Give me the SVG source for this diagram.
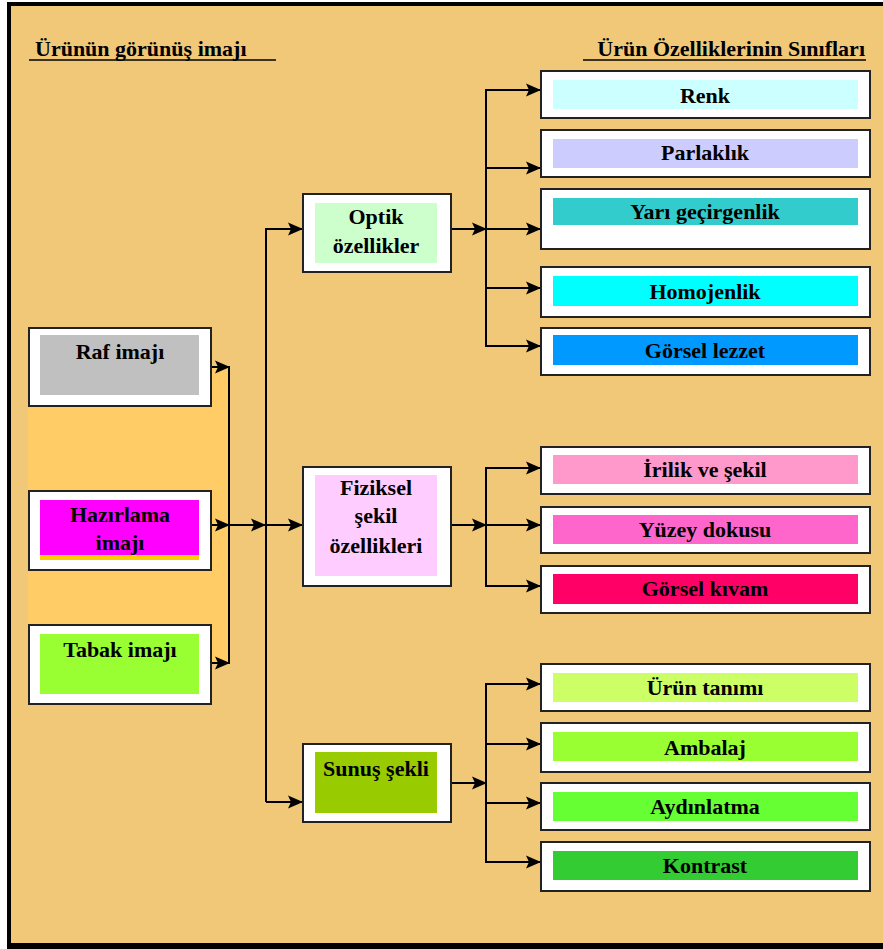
<svg xmlns="http://www.w3.org/2000/svg" width="883" height="949" viewBox="0 0 883 949">
<defs>
<marker id="ah" markerWidth="16" markerHeight="14" refX="15" refY="7" orient="auto" markerUnits="userSpaceOnUse">
<path d="M0,0.5 L15,7 L0,13.5 L3,7 z" fill="#000"/>
</marker>
<style>
.t{font-family:"Liberation Serif","Times New Roman",serif;font-weight:bold;font-size:22px;fill:#000;text-anchor:middle}
.h{font-family:"Liberation Serif","Times New Roman",serif;font-weight:bold;font-size:22px;fill:#000}
.ob{fill:#fff;stroke:#222;stroke-width:2}
.c{stroke:#000;stroke-width:2;fill:none}
.a{stroke:#000;stroke-width:2;fill:none;marker-end:url(#ah)}
</style>
</defs>
<rect x="0" y="0" width="883" height="949" fill="#fff"/>
<rect x="7" y="2" width="880" height="947" fill="#000"/>
<rect x="11" y="6" width="876" height="937" fill="#F0C878"/>
<rect x="28" y="367" width="202" height="296" fill="#FFCC66"/>

<g id="headers">
<text class="h" x="35" y="56">Ürünün görünüş imajı</text>
<line x1="29" y1="60" x2="276" y2="60" stroke="#000" stroke-width="1.5"/>
<text class="h" x="865" y="56" text-anchor="end">Ürün Özelliklerinin Sınıfları</text>
<line x1="583" y1="60" x2="866" y2="60" stroke="#000" stroke-width="1.5"/>
</g>

<g id="connectors">
<line class="a" x1="211" y1="367" x2="230" y2="367"/>
<line class="a" x1="211" y1="525" x2="230" y2="525"/>
<line class="a" x1="211" y1="663" x2="230" y2="663"/>
<line class="c" x1="229" y1="366" x2="229" y2="664"/>
<line class="a" x1="229" y1="525" x2="266" y2="525"/>
<line class="c" x1="266" y1="228" x2="266" y2="802"/>
<line class="a" x1="266" y1="229" x2="303" y2="229"/>
<line class="a" x1="266" y1="525" x2="303" y2="525"/>
<line class="a" x1="266" y1="802" x2="303" y2="802"/>

<line class="a" x1="451" y1="229" x2="487" y2="229"/>
<line class="c" x1="486" y1="89" x2="486" y2="347"/>
<line class="a" x1="486" y1="90" x2="541" y2="90"/>
<line class="a" x1="486" y1="168" x2="541" y2="168"/>
<line class="a" x1="486" y1="229" x2="541" y2="229"/>
<line class="a" x1="486" y1="288" x2="541" y2="288"/>
<line class="a" x1="486" y1="346" x2="541" y2="346"/>

<line class="a" x1="451" y1="525" x2="487" y2="525"/>
<line class="c" x1="486" y1="467" x2="486" y2="587"/>
<line class="a" x1="486" y1="468" x2="541" y2="468"/>
<line class="a" x1="486" y1="525" x2="541" y2="525"/>
<line class="a" x1="486" y1="586" x2="541" y2="586"/>

<line class="a" x1="451" y1="783" x2="487" y2="783"/>
<line class="c" x1="486" y1="683" x2="486" y2="863"/>
<line class="a" x1="486" y1="684" x2="541" y2="684"/>
<line class="a" x1="486" y1="744" x2="541" y2="744"/>
<line class="a" x1="486" y1="803" x2="541" y2="803"/>
<line class="a" x1="486" y1="862" x2="541" y2="862"/>
</g>

<g id="raf">
<rect class="ob" x="29" y="328" width="182" height="78"/>
<rect x="40" y="335" width="159" height="60" fill="#C0C0C0"/>
<text class="t" x="120" y="359">Raf imajı</text>
</g>
<g id="hazirlama">
<rect class="ob" x="29" y="491" width="182" height="79"/>
<rect x="40" y="500" width="159" height="60" fill="#FFCC00"/>
<rect x="40" y="500" width="159" height="55" fill="#FF00FF"/>
<text class="t" x="120" y="522">Hazırlama</text>
<text class="t" x="120" y="550">imajı</text>
</g>
<g id="tabak">
<rect class="ob" x="29" y="625" width="182" height="79"/>
<rect x="40" y="634" width="159" height="60" fill="#99FF33"/>
<text class="t" x="120" y="657">Tabak imajı</text>
</g>

<g id="optik">
<rect class="ob" x="303" y="194" width="148" height="78"/>
<rect x="315" y="203" width="122" height="60" fill="#CCFFCC"/>
<text class="t" x="376" y="224">Optik</text>
<text class="t" x="376" y="253">özellikler</text>
</g>
<g id="fiziksel">
<rect class="ob" x="303" y="467" width="148" height="119"/>
<rect x="315" y="475" width="122" height="101" fill="#FFCCFF"/>
<text class="t" x="376" y="495">Fiziksel</text>
<text class="t" x="376" y="523">şekil</text>
<text class="t" x="376" y="553">özellikleri</text>
</g>
<g id="sunus">
<rect class="ob" x="303" y="744" width="148" height="78"/>
<rect x="315" y="752" width="122" height="61" fill="#99CC00"/>
<text class="t" x="376" y="776">Sunuş şekli</text>
</g>

<g id="renk">
<rect class="ob" x="541" y="71" width="329" height="47"/>
<rect x="553" y="80" width="305" height="29" fill="#CCFFFF"/>
<text class="t" x="705" y="103">Renk</text>
</g>
<g id="parlaklik">
<rect class="ob" x="541" y="130" width="329" height="47"/>
<rect x="553" y="139" width="305" height="29" fill="#CCCCFF"/>
<text class="t" x="705" y="160">Parlaklık</text>
</g>
<g id="yari">
<rect class="ob" x="541" y="189" width="329" height="60"/>
<rect x="553" y="198" width="305" height="27" fill="#33CCCC"/>
<text class="t" x="705" y="219">Yarı geçirgenlik</text>
</g>
<g id="homojenlik">
<rect class="ob" x="541" y="267" width="329" height="50"/>
<rect x="553" y="276" width="305" height="30" fill="#00FFFF"/>
<text class="t" x="705" y="299">Homojenlik</text>
</g>
<g id="gorsel-lezzet">
<rect class="ob" x="541" y="328" width="329" height="47"/>
<rect x="553" y="335" width="305" height="30" fill="#0099FF"/>
<text class="t" x="705" y="358">Görsel lezzet</text>
</g>

<g id="irilik">
<rect class="ob" x="541" y="447" width="329" height="47"/>
<rect x="553" y="455" width="305" height="29" fill="#FF99CC"/>
<text class="t" x="705" y="477">İrilik ve şekil</text>
</g>
<g id="yuzey">
<rect class="ob" x="541" y="507" width="329" height="46"/>
<rect x="553" y="515" width="305" height="29" fill="#FF66CC"/>
<text class="t" x="705" y="537">Yüzey dokusu</text>
</g>
<g id="kivam">
<rect class="ob" x="541" y="566" width="329" height="47"/>
<rect x="553" y="574" width="305" height="30" fill="#FF0066"/>
<text class="t" x="705" y="596">Görsel kıvam</text>
</g>

<g id="urun-tanimi">
<rect class="ob" x="541" y="664" width="329" height="47"/>
<rect x="553" y="673" width="305" height="29" fill="#CCFF66"/>
<text class="t" x="705" y="695">Ürün tanımı</text>
</g>
<g id="ambalaj">
<rect class="ob" x="541" y="723" width="329" height="49"/>
<rect x="553" y="732" width="305" height="29" fill="#99FF33"/>
<text class="t" x="705" y="755">Ambalaj</text>
</g>
<g id="aydinlatma">
<rect class="ob" x="541" y="783" width="329" height="47"/>
<rect x="553" y="792" width="305" height="29" fill="#66FF33"/>
<text class="t" x="705" y="814">Aydınlatma</text>
</g>
<g id="kontrast">
<rect class="ob" x="541" y="842" width="329" height="49"/>
<rect x="553" y="851" width="305" height="29" fill="#33CC33"/>
<text class="t" x="705" y="873">Kontrast</text>
</g>
</svg>
